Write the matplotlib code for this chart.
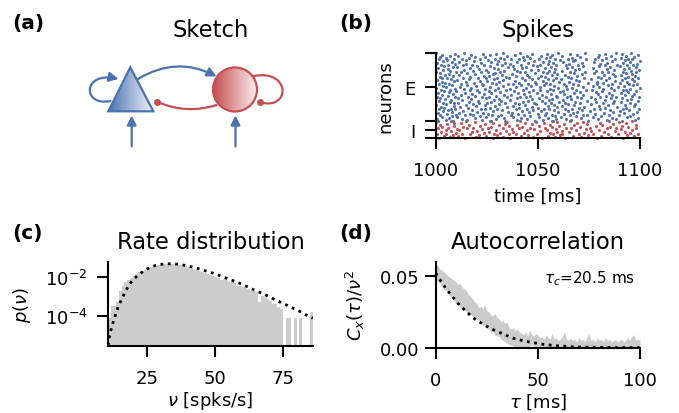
import numpy as np
import matplotlib
matplotlib.use("Agg")
import matplotlib.pyplot as plt
from matplotlib.patches import Polygon, Circle, FancyArrowPatch
from matplotlib.path import Path
from matplotlib.colors import LinearSegmentedColormap
from matplotlib.ticker import NullLocator, FormatStrFormatter

# ---------------------------------------------------------------- data
# (b) spike raster: spike times (ms after 1000 ms), one list per neuron row
E_SPIKES = [
    [1.2, 8.7, 26.9, 34.1, 48.8, 57.3, 74.6, 91.0],
    [4.9, 15.3, 22.7, 39.6, 52.4, 66.0, 83.9, 97.7],
    [0.4, 12.8, 29.3, 44.5, 59.1, 63.8, 79.2, 88.4],
    [6.6, 19.0, 33.2, 41.7, 55.0, 70.9, 86.3, 99.1],
    [3.1, 10.4, 24.8, 38.0, 50.7, 61.2, 76.8, 93.5],
    [7.9, 21.6, 30.5, 46.3, 58.4, 68.7, 81.1, 95.0],
    [2.3, 14.1, 27.7, 36.9, 53.6, 65.5, 72.3, 89.7],
    [9.8, 18.2, 31.9, 43.0, 56.8, 73.9, 84.6],
    [5.5, 16.9, 25.6, 40.4, 49.9, 62.7, 78.1, 96.4],
    [0.9, 11.5, 23.3, 37.4, 54.2, 67.1, 82.5, 92.2],
    [8.2, 20.4, 35.6, 45.8, 60.0, 69.3, 87.0, 98.3],
    [3.7, 13.4, 28.1, 42.2, 51.5, 64.6, 75.4, 90.1],
    [6.1, 17.8, 32.6, 47.7, 57.9, 71.6, 85.2, 94.4],
    [1.8, 9.3, 24.0, 39.1, 52.9, 63.2, 77.5, 91.8],
    [7.3, 22.1, 30.0, 44.9, 55.7, 66.8, 80.3, 99.6],
    [4.2, 15.9, 26.4, 41.0, 50.2, 69.9, 83.0, 93.0],
    [2.7, 12.0, 34.8, 46.9, 59.6, 72.8, 88.9],
    [9.1, 19.6, 29.0, 37.8, 54.8, 61.9, 79.8, 96.9],
    [0.2, 14.7, 23.9, 43.6, 58.1, 67.9, 84.1, 92.7],
    [5.0, 18.5, 31.2, 40.8, 49.3, 65.0, 76.2, 97.4],
    [8.8, 21.0, 33.7, 48.1, 56.3, 70.4, 86.8],
    [3.4, 11.1, 25.2, 38.7, 53.3, 63.5, 81.7, 94.9],
    [6.9, 16.4, 27.3, 42.7, 60.5, 68.2, 78.7, 90.6],
    [1.5, 20.8, 32.1, 45.3, 51.9, 74.1, 87.5, 98.8],
    [7.6, 13.0, 28.6, 36.3, 55.4, 62.2, 82.8, 93.8],
    [4.5, 17.2, 30.8, 47.1, 57.0, 66.3, 77.9, 95.7],
    [2.0, 10.9, 24.4, 39.9, 50.5, 71.1, 85.6, 91.3],
    [9.4, 22.5, 35.0, 44.0, 59.4, 64.1, 80.6, 99.3],
    [0.6, 15.6, 26.0, 41.5, 53.9, 69.0, 75.8, 88.2],
    [5.8, 19.3, 29.6, 46.0, 58.7, 65.8, 83.5, 96.0],
    [3.0, 12.4, 33.4, 37.1, 52.1, 72.0, 86.1, 92.5],
    [8.5, 18.0, 23.6, 43.3, 56.5, 63.0, 79.4, 97.0],
    [1.0, 14.4, 27.0, 40.1, 49.6, 67.5, 84.8, 90.9],
    [6.3, 21.3, 31.6, 45.6, 60.8, 70.7, 78.3, 94.1],
    [4.0, 10.1, 25.9, 38.4, 54.5, 62.5, 81.4, 98.0],
    [7.1, 16.7, 28.9, 47.4, 57.6, 68.5, 87.2, 93.3],
    [2.5, 20.1, 34.4, 42.9, 51.2, 73.5, 76.5, 91.6],
    [9.6, 13.8, 24.2, 36.6, 55.9, 64.3, 82.1, 95.3],
    [0.1, 17.5, 30.3, 44.2, 59.8, 66.6, 85.9, 99.8],
    [5.2, 11.8, 26.6, 39.4, 50.9, 71.9, 80.0, 89.4],
    [3.6, 19.8, 32.9, 46.6, 58.0, 63.9, 77.1, 92.0],
    [8.0, 15.1, 23.1, 41.9, 53.0, 69.6, 84.3, 96.6],
    [1.4, 22.9, 29.4, 37.6, 56.1, 67.3, 79.1, 94.6],
    [6.7, 12.6, 35.3, 45.1, 49.0, 62.9, 86.5, 98.5],
    [4.7, 18.7, 27.5, 40.6, 54.0, 74.4, 81.9, 90.3],
    [2.9, 14.9, 31.0, 48.4, 60.2, 65.2, 78.9, 93.6],
    [9.0, 21.8, 25.0, 38.9, 52.6, 70.0, 87.9, 97.1],
    [0.7, 10.6, 33.0, 43.8, 57.3, 68.9, 83.2, 91.1],
    [7.4, 16.1, 28.3, 47.0, 55.2, 61.5, 76.0, 95.9],
    [3.3, 20.6, 24.7, 36.0, 50.0, 72.5, 85.0, 99.0],
    [5.7, 13.2, 30.1, 42.4, 58.9, 66.1, 80.8, 92.9],
    [1.9, 17.0, 34.6, 45.9, 53.7, 64.8, 79.6, 94.0],
    [8.3, 23.8, 26.2, 39.2, 51.6, 69.2, 88.0, 97.5],
    [4.4, 11.4, 32.4, 44.7, 56.9, 63.3, 82.3, 90.7],
    [6.5, 19.1, 27.9, 37.3, 59.3, 71.4, 86.7, 96.2],
    [2.2, 15.4, 29.1, 48.7, 54.4, 67.7, 77.7, 93.1],
    [9.9, 22.3, 31.4, 41.3, 52.3, 65.9, 84.5, 98.2],
    [0.3, 12.2, 25.4, 43.5, 57.8, 73.2, 81.2, 91.5],
    [7.0, 18.4, 33.6, 40.0, 55.6, 62.0, 78.5, 95.4],
    [3.8, 14.0, 24.5, 46.8, 50.3, 68.4, 87.3, 99.4],
    [5.9, 21.1, 30.7, 38.2, 58.5, 70.2, 83.7, 92.4],
    [1.1, 16.6, 28.4, 42.0, 53.4, 64.4, 76.9, 94.7],
    [8.6, 10.3, 35.5, 44.4, 56.6, 66.9, 85.3, 97.8],
    [4.1, 20.0, 26.5, 37.9, 49.7, 72.2, 79.9, 90.0],
    [6.0, 13.6, 32.3, 47.5, 59.0, 63.6, 82.9, 96.7],
    [2.6, 17.9, 23.4, 41.6, 51.0, 69.7, 88.6, 93.7],
    [9.3, 15.0, 29.9, 36.4, 54.9, 65.3, 80.4, 98.6],
    [0.5, 22.0, 34.0, 45.4, 57.5, 71.7, 84.0, 91.9],
    [7.8, 11.6, 27.2, 39.7, 52.7, 62.3, 77.3, 95.1],
    [3.5, 18.8, 30.4, 48.0, 55.3, 67.0, 86.2, 99.9],
    [5.4, 14.6, 25.7, 43.1, 60.6, 68.0, 81.5, 92.6],
    [1.6, 21.5, 33.3, 40.9, 50.8, 73.7, 78.2, 94.3],
    [8.9, 12.9, 28.8, 37.0, 58.3, 64.7, 87.6, 96.1],
    [4.8, 16.3, 31.7, 46.1, 53.8, 66.5, 83.4, 90.5],
    [2.1, 19.4, 24.1, 42.5, 56.0, 70.5, 79.5, 97.3],
    [6.8, 10.7, 35.1, 44.6, 51.4, 61.7, 85.8, 93.2],
    [3.2, 17.3, 26.8, 38.6, 57.1, 69.4, 80.1, 98.9],
    [9.5, 23.0, 29.7, 47.2, 54.6, 65.6, 82.7, 91.4],
    [0.0, 13.9, 32.8, 41.4, 59.7, 72.9, 88.3, 95.8],
]
I_SPIKES = [
    [1.5, 14.2, 27.9, 36.4, 52.0, 63.1, 78.8, 91.7],
    [6.8, 19.5, 33.0, 47.6, 58.3, 71.2, 86.0],
    [3.9, 10.7, 24.6, 41.9, 55.2, 67.4, 80.9, 97.3],
    [8.4, 21.3, 30.2, 45.0, 60.7, 74.5, 93.6],
    [0.6, 16.8, 28.5, 39.3, 57.6, 69.9, 84.2, 99.0],
    [5.2, 12.9, 35.7, 49.8, 62.0, 77.1, 89.4],
    [9.7, 23.4, 31.6, 43.2, 56.1, 72.8, 95.2],
    [2.4, 17.7, 26.1, 38.0, 59.5, 65.3, 82.6, 92.8],
    [7.3, 20.0, 34.2, 51.1, 61.8, 76.0, 87.7],
    [4.8, 11.6, 29.4, 44.7, 54.3, 68.6, 79.7, 96.1],
    [10.4, 22.6, 37.5, 48.2, 58.9, 73.4, 90.5],
    [1.1, 15.3, 25.8, 40.6, 53.7, 66.2, 83.9, 98.2],
    [6.0, 18.4, 32.7, 46.3, 63.9, 75.3, 88.1],
    [3.2, 13.5, 27.0, 42.4, 57.0, 70.6, 85.5, 94.3],
    [8.9, 21.8, 36.1, 50.4, 60.2, 78.4, 91.0],
    [2.0, 16.1, 30.9, 39.8, 55.8, 67.9, 81.5, 97.8],
    [5.7, 24.0, 33.8, 47.0, 62.6, 74.0, 86.9],
    [9.1, 12.3, 28.2, 43.9, 52.8, 69.2, 80.3, 93.0],
    [0.3, 19.0, 35.0, 49.1, 59.2, 72.1, 89.9],
    [7.6, 14.8, 26.7, 41.4, 56.7, 65.8, 84.6, 95.9],
]
T_START = 1000.0
N_I = len(I_SPIKES)
N_E = len(E_SPIKES)

# (c) firing-rate histogram: first bin edge, bin width, log10 density per bin (None = empty)
RATE_EDGE0 = 10.8
RATE_BINW = 1.0
RATE_LOG10 = [
    -4.12, -3.48, -3.48, -3.30, -2.75, -2.45, -2.28, -2.15, -2.05, -1.95,
    -1.84, -1.76, -1.68, -1.62, -1.56, -1.50, -1.46, -1.42, -1.39, -1.36,
    -1.34, -1.33, -1.32, -1.32, -1.33, -1.35, -1.37, -1.41, -1.45, -1.49,
    -1.53, -1.57, -1.62, -1.67, -1.72, -1.77, -1.82, -1.87, -1.93, -2.00,
    -2.03, -2.17, -2.12, -2.17, -2.24, -2.27, -2.32, -2.47, -2.44, -2.50,
    -2.58, -2.62, -2.72, -2.75, -2.80, -3.30, -2.96, -3.05, -3.13, -3.22,
    -3.39, -3.42, -3.57, -3.64, None, -4.12, -4.12, None, -4.12, None,
    -4.12, None, None, None, -3.82,
]
# fitted rate density (dotted)
FIT_NU = [10.9, 11.1, 11.5, 12.3, 13.1, 13.9, 14.8, 16.0, 17.2, 18.5, 20.1,
          22.0, 24.0, 26.5, 28.9, 31.6, 34.2, 37.0, 39.5, 42.3, 44.7, 47.2,
          49.7, 52.3, 54.7, 57.1, 59.6, 62.0, 64.4, 66.9, 69.3, 71.7, 74.2,
          76.6, 79.0, 81.5, 83.6, 85.7]
FIT_LOG10 = [-5.55, -5.25, -4.95, -4.52, -4.17, -3.79, -3.44, -3.09, -2.75,
             -2.40, -2.12, -1.88, -1.67, -1.48, -1.36, -1.32, -1.31, -1.34,
             -1.41, -1.50, -1.60, -1.71, -1.82, -1.96, -2.09, -2.22, -2.36,
             -2.52, -2.68, -2.83, -2.99, -3.16, -3.33, -3.49, -3.65, -3.82,
             -3.99, -4.14]

# (d) autocorrelation band (lower / upper edge) at 1 ms lags
AC_TAU = list(range(0, 101))
AC_UPPER = [
    0.058, 0.057, 0.055, 0.054, 0.053, 0.052, 0.050, 0.049, 0.048, 0.047,
    0.046, 0.044, 0.045, 0.042, 0.041, 0.040, 0.037, 0.036, 0.034, 0.032,
    0.031, 0.028, 0.029, 0.027, 0.030, 0.026, 0.025, 0.023, 0.022, 0.024,
    0.021, 0.020, 0.018, 0.019, 0.017, 0.018, 0.014, 0.013, 0.014, 0.012,
    0.013, 0.011, 0.010, 0.009, 0.011, 0.008, 0.012, 0.009, 0.008, 0.010,
    0.009, 0.007, 0.008, 0.006, 0.009, 0.007, 0.006, 0.010, 0.006, 0.007,
    0.005, 0.006, 0.008, 0.011, 0.006, 0.005, 0.007, 0.005, 0.006, 0.004,
    0.007, 0.005, 0.006, 0.004, 0.007, 0.010, 0.005, 0.006, 0.004, 0.007,
    0.005, 0.006, 0.004, 0.007, 0.005, 0.006, 0.004, 0.005, 0.006, 0.004,
    0.005, 0.006, 0.004, 0.005, 0.007, 0.005, 0.008, 0.009, 0.005, 0.006,
    0.005,
]
AC_LOWER = [
    0.047, 0.046, 0.045, 0.043, 0.041, 0.040, 0.038, 0.036, 0.035, 0.033,
    0.031, 0.030, 0.028, 0.027, 0.026, 0.025, 0.024, 0.023, 0.022, 0.021,
    0.020, 0.019, 0.018, 0.016, 0.015, 0.014, 0.013, 0.011, 0.011, 0.009,
    0.008, 0.008, 0.006, 0.005, 0.004, 0.003, 0.002, 0.002, 0.001, 0.000,
    0.001, 0.000, 0.000, 0.001, 0.000, 0.000, 0.001, 0.002, 0.001, 0.000,
    0.001, 0.000, 0.001, 0.000, 0.000, 0.001, 0.000, 0.001, 0.000, 0.000,
    0.001, 0.000, 0.001, 0.000, 0.000, 0.001, 0.000, 0.000, 0.001, 0.000,
    0.000, 0.001, 0.000, 0.000, 0.001, 0.000, 0.000, 0.001, 0.000, 0.000,
    0.001, 0.000, 0.000, 0.001, 0.000, 0.000, 0.001, 0.000, 0.000, 0.001,
    0.000, 0.000, 0.001, 0.000, 0.000, 0.001, 0.000, 0.001, 0.000, 0.000,
    0.000,
]
# exponential fit (dotted)
ACFIT_TAU = [0.0, 1.6, 3.4, 5.4, 7.8, 10.0, 12.2, 14.7, 17.1, 19.7, 22.2, 25.0,
             27.4, 30.2, 33.1, 35.6, 38.3, 41.3, 44.2, 47.0, 49.8, 52.7, 55.6,
             58.4, 61.2, 64.1, 66.6, 70.0, 75.0, 80.0, 90.0, 100.0]
ACFIT_VAL = [0.0520, 0.0486, 0.0446, 0.0406, 0.0364, 0.0324, 0.0289, 0.0257,
             0.0224, 0.0194, 0.0173, 0.0149, 0.0131, 0.0112, 0.0096, 0.0079,
             0.0065, 0.0054, 0.0044, 0.0037, 0.0030, 0.0023, 0.0019, 0.0014,
             0.0012, 0.0009, 0.0007, 0.0005, 0.0004, 0.0002, 0.0001, 0.00004]
TAU_C = 20.5

# ---------------------------------------------------------------- style
BLUE = "#4C72B0"
RED = "#C44E52"
GREY = "#cccccc"

plt.rcParams.update({
    "font.family": "DejaVu Sans",
    "font.size": 13,
    "axes.titlesize": 16.3,
    "axes.labelsize": 13,
    "xtick.labelsize": 13,
    "ytick.labelsize": 13,
    "axes.linewidth": 1.5,
    "xtick.major.width": 1.5,
    "ytick.major.width": 1.5,
    "xtick.major.size": 7.7,
    "ytick.major.size": 7.7,
    "xtick.major.pad": 9,
    "ytick.major.pad": 7,
    "mathtext.fontset": "dejavusans",
    "axes.spines.top": False,
    "axes.spines.right": False,
})

W, H = 679, 414
fig = plt.figure(figsize=(W / 100, H / 100), dpi=100)


def add_axes_px(x0, y0, x1, y1):
    """Axes from a pixel box measured from the top-left corner."""
    return fig.add_axes([x0 / W, 1 - y1 / H, (x1 - x0) / W, (y1 - y0) / H])


# ---------------------------------------------------------------- (a) sketch
ax_a = add_axes_px(108, 54, 313, 139)
ax_a.axis("off")
ax_a.set_title("Sketch", pad=12)

grad = np.linspace(0, 1, 256)[None, :]
tri_pts = [(108.3, 112.3), (130.3, 68.3), (153.3, 112.3)]
tri = Polygon(tri_pts, closed=True, fc="none", ec=BLUE, lw=1.6, zorder=4,
              clip_on=False)
ax_a.add_patch(tri)
cm_e = LinearSegmentedColormap.from_list("e", [BLUE, "#f2f5fa"])
im = ax_a.imshow(grad, extent=(108.3, 153.3, 112.3, 68.3), cmap=cm_e,
                 aspect="auto", zorder=3, interpolation="bilinear")
im.set_clip_path(tri)

circ = Circle((235, 90.5), 22, fc="none", ec=RED, lw=1.6, zorder=4,
              clip_on=False)
ax_a.add_patch(circ)
cm_i = LinearSegmentedColormap.from_list("i", [RED, "#fbeeee"])
im2 = ax_a.imshow(grad, extent=(213, 257, 112.5, 68.5), cmap=cm_i,
                  aspect="auto", zorder=3, interpolation="bilinear")
im2.set_clip_path(circ)
ax_a.set_xlim(108, 313)
ax_a.set_ylim(139, 54)

head = "-|>,head_length=0.55,head_width=0.28"
# E -> I
ax_a.add_patch(FancyArrowPatch((138, 80), (216.5, 77.5),
                               connectionstyle="arc3,rad=-0.28",
                               arrowstyle=head, mutation_scale=10,
                               color=BLUE, lw=1.6, shrinkA=0, shrinkB=0,
                               clip_on=False, zorder=5))
# I -> E (inhibitory)
ax_a.add_patch(FancyArrowPatch((216.5, 106), (157, 102.7),
                               connectionstyle="arc3,rad=-0.19",
                               arrowstyle="-", color=RED, lw=1.6,
                               shrinkA=0, shrinkB=0, clip_on=False, zorder=5))
ax_a.plot([157], [102.7], "o", color=RED, ms=5, mec="none", clip_on=False,
          zorder=6)
# E -> E
loop_e = Path([(110.5, 102), (82, 108), (82, 72), (118.5, 80)],
              [Path.MOVETO, Path.CURVE4, Path.CURVE4, Path.CURVE4])
ax_a.add_patch(FancyArrowPatch(path=loop_e, arrowstyle=head, mutation_scale=10,
                               color=BLUE, lw=1.6, clip_on=False, zorder=5))
# I -> I (inhibitory)
loop_i = Path([(254, 77), (291, 70), (291, 112), (260, 103.3)],
              [Path.MOVETO, Path.CURVE4, Path.CURVE4, Path.CURVE4])
ax_a.add_patch(FancyArrowPatch(path=loop_i, arrowstyle="-", color=RED,
                               lw=1.6, clip_on=False, zorder=5))
ax_a.plot([260], [103.3], "o", color=RED, ms=5, mec="none", clip_on=False,
          zorder=6)
# external inputs
for xin in (131.7, 235.5):
    ax_a.add_patch(FancyArrowPatch((xin, 147.5), (xin, 116.5),
                                   arrowstyle=head, mutation_scale=10,
                                   color=BLUE, lw=1.6, shrinkA=0, shrinkB=0,
                                   clip_on=False, zorder=5))

# ---------------------------------------------------------------- (b) raster
ax_b = add_axes_px(435.7, 54, 640, 139.3)
for k, train in enumerate(I_SPIKES):
    t = T_START + np.asarray(train)
    ax_b.plot(t, np.full(t.size, k + 0.5), "o", color=RED, ms=2.2, mew=0,
              clip_on=False)
for k, train in enumerate(E_SPIKES):
    t = T_START + np.asarray(train)
    ax_b.plot(t, np.full(t.size, N_I + k + 0.5), "o", color=BLUE, ms=2.2,
              mew=0, clip_on=False)
n_tot = N_I + N_E
ax_b.set_xlim(T_START, T_START + 100)
ax_b.set_ylim(0, n_tot)
ax_b.set_xticks([1000, 1050, 1100])
ax_b.set_yticks([0, N_I / 2, N_I, N_I + N_E / 2, n_tot])
ax_b.set_yticklabels(["", "I", "", "E", ""])
ax_b.set_xlabel("time [ms]", labelpad=5.5)
ax_b.set_ylabel("neurons", labelpad=7)
ax_b.set_title("Spikes", pad=12)

# ---------------------------------------------------------------- (c) rates
ax_c = add_axes_px(108, 263, 313, 347)
centers = RATE_EDGE0 + RATE_BINW * (np.arange(len(RATE_LOG10)) + 0.5)
dens = np.array([np.nan if v is None else 10.0 ** v for v in RATE_LOG10])
ax_c.bar(centers, np.nan_to_num(dens), width=RATE_BINW, color=GREY, lw=0)
ax_c.plot(FIT_NU, 10.0 ** np.asarray(FIT_LOG10), ls=":", color="k", lw=2)
ax_c.set_yscale("log")
ax_c.set_xlim(RATE_EDGE0, RATE_EDGE0 + RATE_BINW * len(RATE_LOG10))
ax_c.set_ylim(10 ** -5.58, 10 ** -1.22)
ax_c.set_yticks([1e-4, 1e-2])
ax_c.yaxis.set_minor_locator(NullLocator())
ax_c.set_xticks([25, 50, 75])
ax_c.set_xlabel(r"$\nu$ [spks/s]", labelpad=1.5)
ax_c.set_ylabel(r"$p(\nu)$", labelpad=8.5)
ax_c.set_title("Rate distribution", pad=10)

# ---------------------------------------------------------------- (d) autocorr
ax_d = add_axes_px(435.7, 262.7, 640, 348.7)
ax_d.fill_between(AC_TAU, AC_LOWER, AC_UPPER, color=GREY, lw=0)
ax_d.plot(ACFIT_TAU, ACFIT_VAL, ls=":", color="k", lw=2)
ax_d.set_xlim(0, 100)
ax_d.set_ylim(0, 0.06)
ax_d.set_xticks([0, 50, 100])
ax_d.set_yticks([0, 0.05])
ax_d.tick_params(axis="y", pad=4)
ax_d.yaxis.set_major_formatter(FormatStrFormatter("%.2f"))
ax_d.set_xlabel(r"$\tau$ [ms]", labelpad=1.5)
ax_d.set_ylabel(r"$C_x(\tau)/\nu^2$", labelpad=9)
ax_d.set_title("Autocorrelation", pad=10)
ax_d.text(0.975, 0.82, r"$\tau_c$=%.1f ms" % TAU_C, transform=ax_d.transAxes,
          ha="right", va="center", fontsize=11)

# ---------------------------------------------------------------- panel tags
for lab, xp, yp in (("(a)", 12, 29), ("(b)", 339, 29),
                    ("(c)", 12, 239), ("(d)", 339, 239)):
    fig.text(xp / W, 1 - yp / H, lab, fontsize=14.5, fontweight="bold",
             va="baseline", ha="left")

fig.savefig("out.png", dpi=100)
